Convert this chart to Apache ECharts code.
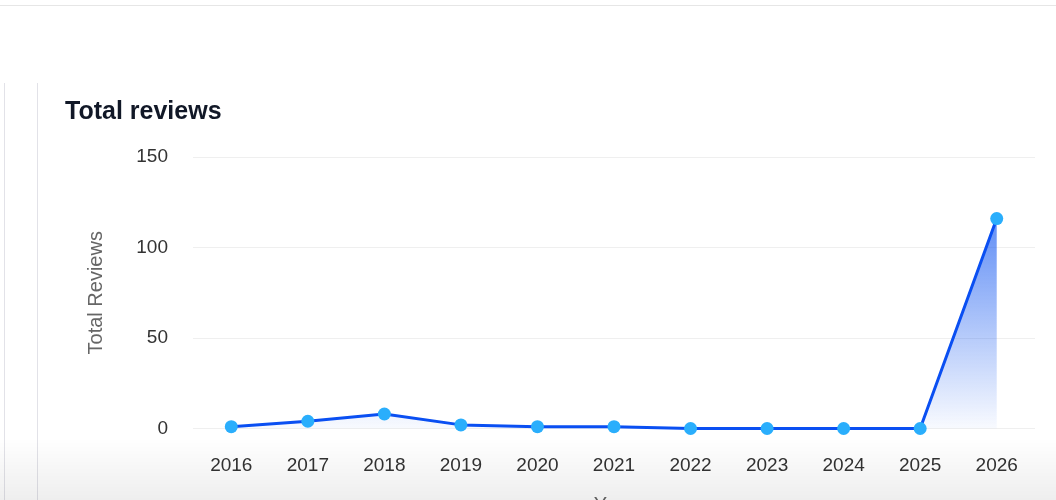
<!DOCTYPE html>
<html>
<head>
<meta charset="utf-8">
<script src="https://cdn.jsdelivr.net/npm/echarts@6/dist/echarts.min.js"></script>
<style>
  html, body { margin: 0; padding: 0; background: #fff; }
  #wrap { position: relative; width: 1056px; height: 500px; overflow: hidden; }
  #chart { position: absolute; left: 0; top: 0; width: 1056px; height: 500px; }
  .topline { position: absolute; left: 0; top: 5px; width: 1056px; height: 1px; background: #e6e6e6; }
  .vline { position: absolute; top: 83px; width: 1px; height: 417px; background: #e2e2e8; }
  .fade { position: absolute; left: 0; top: 438px; width: 1056px; height: 62px;
          background: linear-gradient(rgba(0,0,0,0), rgba(0,0,0,0.065)); pointer-events: none; }
</style>
</head>
<body>
<div id="wrap">
  <div class="topline"></div>
  <div class="vline" style="left:4px"></div>
  <div class="vline" style="left:37px"></div>
  <div id="chart"></div>
  <div class="fade"></div>
</div>
<script>
// years on the x axis
var years = ['2016', '2017', '2018', '2019', '2020', '2021', '2022', '2023', '2024', '2025', '2026']
// total reviews per year
var totalReviews = [1, 4, 8, 2, 1, 1, 0, 0, 0, 0, 116]

var font = 'Liberation Sans, Arial, Helvetica, sans-serif'
var myChart = echarts.init(document.getElementById('chart'))

myChart.setOption({
  animation: false,
  title: {
    text: 'Total reviews',
    left: 60,
    top: 95,
    textStyle: {
      fontFamily: font,
      fontSize: 25,
      fontWeight: 'bold',
      color: '#111827'
    }
  },
  grid: {
    left: 193,
    right: 21,
    top: 157,
    bottom: 71.5,
    containLabel: false,
    outerBoundsMode: 'none'
  },
  xAxis: {
    type: 'category',
    data: years,
    boundaryGap: true,
    name: 'Year',
    nameLocation: 'middle',
    nameGap: 67,
    nameTextStyle: { fontFamily: font, fontSize: 20, color: '#666' },
    axisLine: { show: false },
    axisTick: { show: false },
    axisLabel: { fontFamily: font, fontSize: 19, color: '#333', margin: 28 }
  },
  yAxis: {
    type: 'value',
    min: 0,
    max: 150,
    interval: 50,
    name: 'Total Reviews',
    nameLocation: 'middle',
    nameGap: 87,
    nameTextStyle: { fontFamily: font, fontSize: 20, color: '#666' },
    axisLine: { show: false },
    axisTick: { show: false },
    axisLabel: { fontFamily: font, fontSize: 19, color: '#333', margin: 25 },
    splitLine: { lineStyle: { color: '#efefef', width: 1 } }
  },
  series: [
    {
      type: 'line',
      data: totalReviews,
      symbol: 'circle',
      symbolSize: 13,
      lineStyle: { color: '#0a4ff2', width: 3 },
      itemStyle: { color: '#2aaefc' },
      areaStyle: {
        color: new echarts.graphic.LinearGradient(0, 0, 0, 1, [
          { offset: 0, color: 'rgba(10, 80, 240, 0.92)' },
          { offset: 1, color: 'rgba(10, 80, 240, 0.04)' }
        ])
      }
    }
  ]
})
</script>
</body>
</html>
